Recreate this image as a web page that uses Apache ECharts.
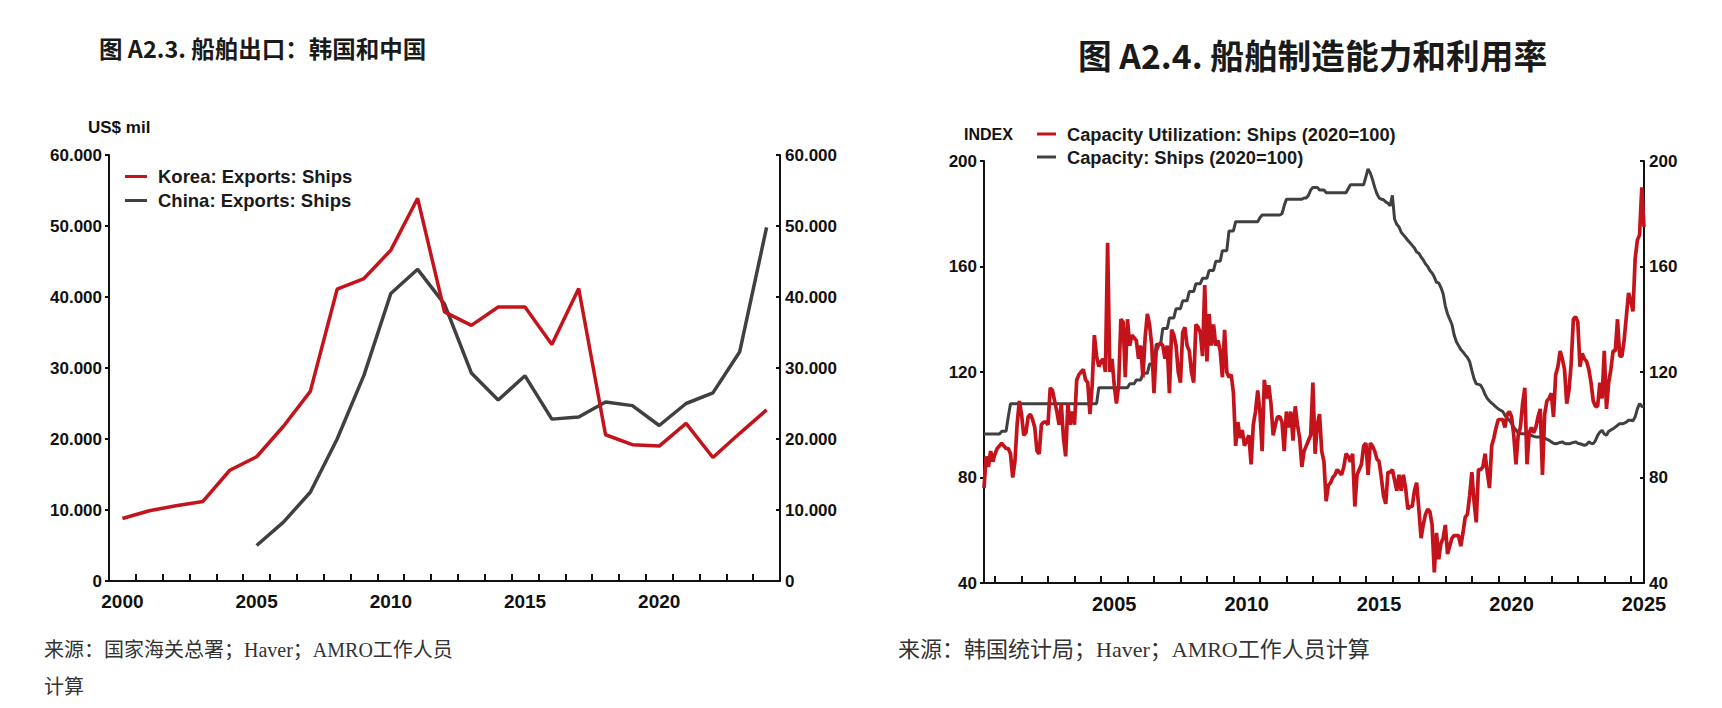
<!DOCTYPE html>
<html><head><meta charset="utf-8">
<script src="https://cdn.jsdelivr.net/npm/echarts/dist/echarts.min.js"></script>
<style>html,body{margin:0;padding:0;background:#fff}#c{width:1722px;height:708px}</style>
</head><body><div id="c"></div>
<script>
// ---------- Figure A2.3 : ship exports (US$ mil) ----------
const exportYears = ['2000','2001','2002','2003','2004','2005','2006','2007','2008','2009','2010','2011','2012','2013','2014','2015','2016','2017','2018','2019','2020','2021','2022','2023','2024'];
const koreaExports = [8800, 9900, 10600, 11200, 15600, 17500, 21800, 26700, 41100, 42600, 46600, 53900, 37900, 36000, 38600, 38600, 33300, 41200, 20600, 19200, 19000, 22200, 17400, 20800, 24100];
const chinaExports = [null, null, null, null, null, 5000, 8300, 12500, 20000, 29000, 40500, 43900, 39000, 29300, 25500, 28900, 22800, 23100, 25200, 24700, 21900, 25000, 26500, 32300, 49800];
const exportTickMax = 60000;
const exportTickStep = 10000;

// ---------- Figure A2.4 : shipbuilding capacity & utilisation (2020=100), monthly from 2000-08 ----------
const utilStartYear = 2000;
const utilStartMonth = 8;
const capacityUtilization = [
  76, 88, 84, 90, 86,
  89, 91, 92, 93, 92, 91, 91, 89, 80, 86, 100, 109,
  104, 96, 97, 103, 104, 102, 99, 90, 89, 100, 101, 101,
  100, 114, 113, 109, 105, 100, 108, 95, 88, 108, 100, 105,
  100, 117, 119, 120, 121, 117, 116, 104, 115, 134, 126, 122,
  124, 125, 120, 169, 120, 125, 115, 108, 115, 140, 139, 118,
  140, 130, 134, 133, 132, 125, 130, 118, 133, 142, 138, 130,
  112, 128, 130, 131, 130, 125, 130, 112, 136, 134, 130, 120,
  116, 135, 137, 130, 128, 120, 116, 138, 137, 135, 126, 153,
  124, 142, 130, 138, 130, 132, 128, 118, 136, 120, 118, 119,
  112, 92, 101, 95, 98, 92, 94, 96, 85, 100, 105, 113,
  105, 90, 117, 110, 115, 108, 96, 100, 103, 103, 101, 90,
  105, 99, 105, 94, 107, 100, 95, 84, 90, 92, 94, 96,
  116, 89, 100, 104, 90, 86, 71, 77, 78, 80, 81, 83,
  82, 81, 84, 89, 88, 86, 89, 69, 81, 83, 85, 92,
  93, 81, 93, 92, 90, 87, 86, 80, 73, 70, 82, 82,
  83, 79, 75, 81, 75, 81, 76, 68, 69, 69, 75, 78,
  68, 57, 62, 66, 68, 67, 62, 44, 59, 49, 55, 57,
  62, 51, 54, 57, 58, 58, 58, 54, 59, 65, 66, 73,
  82, 71, 63, 83, 83, 84, 89, 82, 76, 92, 95, 99,
  102, 102, 102, 99, 104, 105, 103, 96, 85, 96, 99, 108,
  114, 85, 97, 99, 97, 99, 103, 106, 81, 104, 109, 110,
  112, 103, 119, 122, 128, 125, 121, 108, 113, 123, 140, 141,
  139, 122, 127, 125, 124, 121, 116, 109, 107, 107, 116, 110,
  128, 106, 116, 121, 128, 128, 140, 126, 126, 132, 141, 150,
  147, 143, 163, 170, 172, 190, 175
];
const capacity = [
  96.5, 96.5, 96.5, 96.5, 96.5,
  96.5, 96.5, 96.5, 97.5, 97.5, 97.5, 103, 108, 108, 108, 108, 108,
  108, 108, 108, 108, 108, 108, 108, 108, 108, 108, 108, 108,
  108, 108, 108, 108, 108, 108, 108, 108, 108, 108, 108, 108,
  108, 108, 108, 108, 108, 108, 108, 108, 108, 108, 108, 114,
  114, 114, 114, 114, 114, 114, 114, 114, 114, 114, 114, 114,
  114, 115.5, 115.5, 115.5, 117, 117, 117, 119.5, 119.5, 119.5, 123, 123,
  123, 130.5, 130.5, 130.5, 136.5, 136.5, 136.5, 140.5, 140.5, 140.5, 144, 144,
  144, 147, 147, 147, 150.5, 150.5, 150.5, 153.5, 153.5, 153.5, 155.5, 155.5,
  155.5, 158.5, 158.5, 158.5, 162, 162, 162, 166, 166, 166, 173.5, 173.5,
  173.5, 177, 177, 177, 177, 177, 177, 177, 177, 177, 177, 177,
  178.5, 179.5, 179.5, 179.5, 179.5, 179.5, 179.5, 179.5, 179.5, 179.5, 180, 183,
  185.5, 185.5, 185.5, 185.5, 185.5, 185.5, 185.5, 185.5, 186, 186, 187, 189,
  190, 190, 190, 189, 189, 189, 188, 188, 188, 188, 188, 188,
  188, 188, 188, 188, 189.5, 191, 191, 191, 191, 191, 191, 191,
  194, 197, 195.5, 193, 190, 187.6, 186, 185.5, 185.3, 184.5, 184, 183,
  187, 178, 176, 175, 173, 172, 171, 169.9, 169, 168, 167, 165.5,
  165, 163.6, 162.5, 161, 160, 158.5, 157.5, 156, 154, 153.8, 152, 149.7,
  145, 142, 140, 138, 134, 131.5, 130, 128.5, 127.6, 126.5, 125.5, 124,
  120.6, 117.5, 115.5, 115.3, 115, 113.5, 111.5, 110, 109, 108.2, 107.5, 106.7,
  106, 105.5, 105, 103.6, 102.5, 101.7, 100.5, 99, 98, 97, 96.6, 96.6,
  96.6, 96.3, 96, 96, 95.6, 95.4, 95.4, 95.4, 95.2, 95, 94.5, 94.1,
  93.5, 93, 92.8, 93, 93.3, 93.5, 93, 92.8, 92.8, 93, 93.3, 93.5,
  93, 92.8, 92.5, 92.2, 92.5, 93.5, 93, 92.8, 94, 96, 97.2, 97.9,
  96.5, 96, 97.5, 98, 98.5, 99.1, 99.8, 100.4, 100.4, 100.6, 101, 101.7,
  101.7, 101.5, 103, 106, 108, 107, 106.7
];
const indexMin = 40, indexMax = 200, indexStep = 40;

// month category labels
const utilMonths = [];
{
  let y = utilStartYear, m = utilStartMonth;
  while (utilMonths.length < capacityUtilization.length) {
    utilMonths.push(y + '-' + (m < 10 ? '0' + m : '' + m));
    m++; if (m > 12) { m = 1; y++; }
  }
}

const RED = '#c4131b';
const GRAY = '#404040';
const INK = '#111';
const SANS = 'Liberation Sans, Arial, sans-serif';
const CJK = 'Noto Sans CJK SC, sans-serif';
const SERIF = 'Liberation Serif, Noto Sans CJK SC, serif';

function dotThousands(v) {
  if (v === 0) return '0';
  const s = String(Math.round(v));
  return s.replace(/\B(?=(\d{3})+(?!\d))/g, '.');
}

const axisLineStyle = { show: true, lineStyle: { color: INK, width: 2 } };

const chart = echarts.init(document.getElementById('c'), null, { renderer: 'svg' });
chart.setOption({
  animation: false,
  backgroundColor: '#fff',
  title: [
    { text: '图 A2.3. 船舶出口：韩国和中国', left: 99, top: 36, padding: 0,
      textStyle: { fontFamily: CJK, fontWeight: 'bold', fontSize: 23.5, color: '#1a1a1a' } },
    { text: '图 A2.4. 船舶制造能力和利用率', left: 1078, top: 38, padding: 0,
      textStyle: { fontFamily: CJK, fontWeight: 'bold', fontSize: 33.7, color: '#1a1a1a' } },
    { text: 'US$ mil', left: 88, top: 119, padding: 0,
      textStyle: { fontFamily: SANS, fontWeight: 'bold', fontSize: 17, color: INK } },
    { text: 'INDEX', left: 964, top: 126, padding: 0,
      textStyle: { fontFamily: SANS, fontWeight: 'bold', fontSize: 16, color: INK } },
    { text: '来源：国家海关总署；Haver；AMRO工作人员\n计算', left: 44, top: 631, padding: 0,
      textStyle: { fontFamily: SERIF, fontWeight: 'normal', fontSize: 20, lineHeight: 37, color: '#333' } },
    { text: '来源：韩国统计局；Haver；AMRO工作人员计算', left: 898, top: 631, padding: 0,
      textStyle: { fontFamily: SERIF, fontWeight: 'normal', fontSize: 22, lineHeight: 37, color: '#333' } }
  ],
  legend: [
    { data: ['Korea: Exports: Ships', 'China: Exports: Ships'], orient: 'vertical',
      left: 125, top: 166, padding: 0, itemGap: 3, itemWidth: 22, itemHeight: 3, icon: 'rect',
      textStyle: { fontFamily: SANS, fontWeight: 'bold', fontSize: 18.5, lineHeight: 21, color: '#1a1a1a', padding: [0, 0, 0, 6] } },
    { data: ['Capacity Utilization: Ships (2020=100)', 'Capacity: Ships (2020=100)'], orient: 'vertical',
      left: 1037, top: 124, padding: 0, itemGap: 3, itemWidth: 19, itemHeight: 3, icon: 'rect',
      textStyle: { fontFamily: SANS, fontWeight: 'bold', fontSize: 18.3, lineHeight: 20, color: '#1a1a1a', padding: [0, 0, 0, 6] } }
  ],
  grid: [
    { left: 109, right: 942, top: 155, bottom: 127 },
    { left: 984, right: 78, top: 161, bottom: 125 }
  ],
  xAxis: [
    { type: 'category', gridIndex: 0, data: exportYears, boundaryGap: true,
      axisLine: axisLineStyle,
      axisTick: { show: true, inside: true, length: 7, interval: 0, lineStyle: { color: INK, width: 2 } },
      axisLabel: { interval: 4, fontFamily: SANS, fontWeight: 'bold', fontSize: 19, color: INK, margin: 11 },
      splitLine: { show: false } },
    { type: 'category', gridIndex: 1, data: utilMonths, boundaryGap: false,
      axisLine: axisLineStyle,
      axisTick: { show: true, inside: true, length: 7, lineStyle: { color: INK, width: 2 },
        interval: function (i, v) { return v.slice(5) === '01'; } },
      axisLabel: { fontFamily: SANS, fontWeight: 'bold', fontSize: 20, color: INK, margin: 11,
        interval: function (i, v) { return v.slice(5) === '07' && (+v.slice(0, 4)) % 5 === 0; },
        formatter: function (v) { return v.slice(0, 4); } },
      splitLine: { show: false } }
  ],
  yAxis: [
    { type: 'value', gridIndex: 0, position: 'left', min: 0, max: exportTickMax, interval: exportTickStep,
      axisLine: axisLineStyle,
      axisTick: { show: true, inside: false, length: 4, lineStyle: { color: INK, width: 2 } },
      axisLabel: { fontFamily: SANS, fontWeight: 'bold', fontSize: 17, color: INK, margin: 7, formatter: dotThousands },
      splitLine: { show: false } },
    { type: 'value', gridIndex: 0, position: 'right', min: 0, max: exportTickMax, interval: exportTickStep,
      axisLine: axisLineStyle,
      axisTick: { show: true, inside: true, length: 4, lineStyle: { color: INK, width: 2 } },
      axisLabel: { fontFamily: SANS, fontWeight: 'bold', fontSize: 17, color: INK, margin: 5, formatter: dotThousands },
      splitLine: { show: false } },
    { type: 'value', gridIndex: 1, position: 'left', min: indexMin, max: indexMax, interval: indexStep,
      axisLine: axisLineStyle,
      axisTick: { show: true, inside: false, length: 4, lineStyle: { color: INK, width: 2 } },
      axisLabel: { fontFamily: SANS, fontWeight: 'bold', fontSize: 17, color: INK, margin: 7 },
      splitLine: { show: false } },
    { type: 'value', gridIndex: 1, position: 'right', min: indexMin, max: indexMax, interval: indexStep,
      axisLine: axisLineStyle,
      axisTick: { show: true, inside: true, length: 4, lineStyle: { color: INK, width: 2 } },
      axisLabel: { fontFamily: SANS, fontWeight: 'bold', fontSize: 17, color: INK, margin: 5 },
      splitLine: { show: false } }
  ],
  series: [
    { name: 'China: Exports: Ships', type: 'line', xAxisIndex: 0, yAxisIndex: 0, data: chinaExports,
      symbol: 'none', connectNulls: false, lineStyle: { color: GRAY, width: 3.5 }, itemStyle: { color: GRAY } },
    { name: 'Korea: Exports: Ships', type: 'line', xAxisIndex: 0, yAxisIndex: 0, data: koreaExports,
      symbol: 'none', lineStyle: { color: RED, width: 3.5 }, itemStyle: { color: RED } },
    { name: 'Capacity: Ships (2020=100)', type: 'line', xAxisIndex: 1, yAxisIndex: 2, data: capacity,
      symbol: 'none', lineStyle: { color: GRAY, width: 3 }, itemStyle: { color: GRAY } },
    { name: 'Capacity Utilization: Ships (2020=100)', type: 'line', xAxisIndex: 1, yAxisIndex: 2, data: capacityUtilization,
      symbol: 'none', lineStyle: { color: RED, width: 3.7 }, itemStyle: { color: RED } }
  ]
});
</script>
</body></html>
